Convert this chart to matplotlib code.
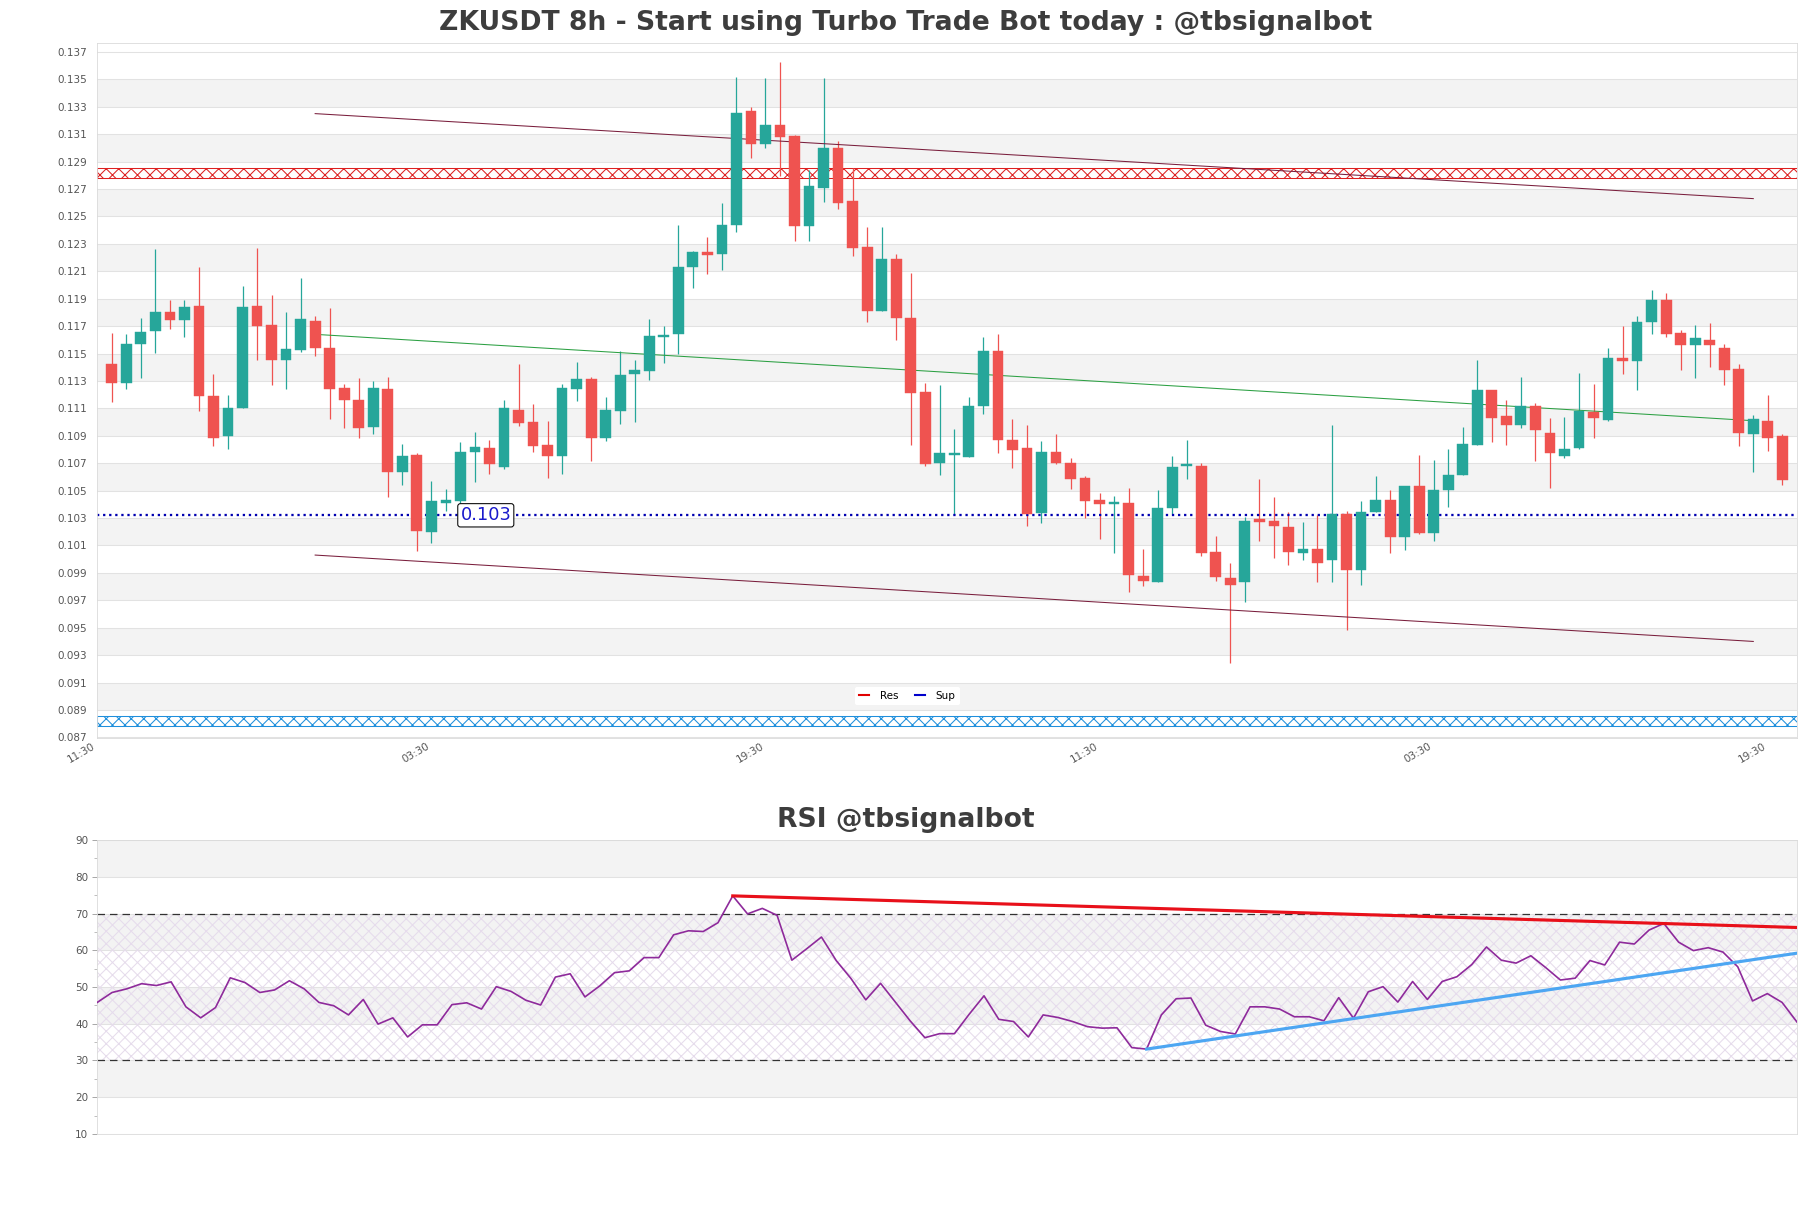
import numpy as np
import matplotlib
matplotlib.use("Agg")
import matplotlib.pyplot as plt
from matplotlib.lines import Line2D

# ---- data ----
opens = [0.11425, 0.11288, 0.11566, 0.11667, 0.11804, 0.11747, 0.11848, 0.11188, 0.10896, 0.11104,
         0.11848, 0.11710, 0.11456, 0.11526, 0.11737, 0.11540, 0.11248, 0.11160, 0.10966, 0.11241,
         0.10638, 0.10759, 0.10196, 0.10411, 0.10424, 0.10782, 0.10812, 0.10675, 0.11087, 0.11000,
         0.10832, 0.10749, 0.11238, 0.11315, 0.10883, 0.11084, 0.11348, 0.11375, 0.11623, 0.11640,
         0.12129, 0.12243, 0.12229, 0.12437, 0.13268, 0.13027, 0.13164, 0.13084, 0.12427, 0.12705,
         0.12997, 0.12615, 0.12276, 0.11807, 0.12189, 0.11760, 0.11218, 0.10698, 0.10762, 0.10745,
         0.11114, 0.11519, 0.10869, 0.10812, 0.10337, 0.10782, 0.10702, 0.10591, 0.10431, 0.10404,
         0.10411, 0.09874, 0.09831, 0.10370, 0.10678, 0.10678, 0.10052, 0.09864, 0.09831, 0.10290,
         0.10276, 0.10236, 0.10048, 0.10072, 0.09992, 0.10327, 0.09918, 0.10347, 0.10431, 0.10159,
         0.10534, 0.10193, 0.10504, 0.10612, 0.10836, 0.11234, 0.11043, 0.10976, 0.11114, 0.10920,
         0.10755, 0.10809, 0.11074, 0.11017, 0.11469, 0.11449, 0.11730, 0.11894, 0.11650, 0.11560,
         0.11596, 0.11539, 0.11389, 0.10916, 0.11007, 0.10899]
highs = [0.11650, 0.11643, 0.11757, 0.12263, 0.11891, 0.11891, 0.12132, 0.11348, 0.11198, 0.11992,
         0.12270, 0.11925, 0.11800, 0.12052, 0.11774, 0.11834, 0.11281, 0.11322, 0.11298, 0.11328,
         0.10839, 0.10776, 0.10568, 0.10511, 0.10856, 0.10930, 0.10869, 0.11164, 0.11425, 0.11130,
         0.11007, 0.11281, 0.11439, 0.11328, 0.11184, 0.11516, 0.11456, 0.11750, 0.11700, 0.12437,
         0.12246, 0.12353, 0.12598, 0.13519, 0.13298, 0.13512, 0.13626, 0.13097, 0.12839, 0.13509,
         0.13050, 0.12856, 0.12420, 0.12420, 0.12229, 0.12085, 0.11288, 0.11271, 0.10946, 0.11184,
         0.11623, 0.11643, 0.11020, 0.10980, 0.10859, 0.10913, 0.10739, 0.10605, 0.10484, 0.10460,
         0.10518, 0.10075, 0.10504, 0.10755, 0.10869, 0.10702, 0.10169, 0.09975, 0.10310, 0.10585,
         0.10454, 0.10343, 0.10270, 0.10323, 0.10980, 0.10350, 0.10424, 0.10605, 0.10504, 0.10534,
         0.10759, 0.10722, 0.10806, 0.10963, 0.11456, 0.11234, 0.11161, 0.11328, 0.11137, 0.11030,
         0.11040, 0.11355, 0.11281, 0.11539, 0.11700, 0.11777, 0.11965, 0.11945, 0.11670, 0.11710,
         0.11723, 0.11566, 0.11422, 0.11054, 0.11198, 0.10913]
lows = [0.11147, 0.11238, 0.11325, 0.11506, 0.11677, 0.11623, 0.11080, 0.10829, 0.10802, 0.11104,
        0.11456, 0.11271, 0.11244, 0.11509, 0.11482, 0.11023, 0.10960, 0.10886, 0.10910, 0.10450,
        0.10544, 0.10059, 0.10116, 0.10350, 0.10411, 0.10561, 0.10621, 0.10655, 0.10973, 0.10779,
        0.10595, 0.10621, 0.11151, 0.10719, 0.10859, 0.10987, 0.11003, 0.11308, 0.11432, 0.11499,
        0.11975, 0.12079, 0.12109, 0.12387, 0.12923, 0.12997, 0.12796, 0.12320, 0.12320, 0.12605,
        0.12554, 0.12209, 0.11727, 0.11807, 0.11596, 0.10836, 0.10678, 0.10611, 0.10327, 0.10745,
        0.11057, 0.10775, 0.10668, 0.10243, 0.10266, 0.10695, 0.10511, 0.10300, 0.10149, 0.10042,
        0.09757, 0.09807, 0.09830, 0.10327, 0.10585, 0.10022, 0.09841, 0.09245, 0.09690, 0.10136,
        0.10008, 0.09958, 0.09992, 0.09831, 0.09831, 0.09482, 0.09814, 0.10347, 0.10048, 0.10069,
        0.10183, 0.10136, 0.10384, 0.10612, 0.10836, 0.10856, 0.10836, 0.10960, 0.10719, 0.10518,
        0.10739, 0.10802, 0.10886, 0.11007, 0.11348, 0.11231, 0.11640, 0.11623, 0.11382, 0.11325,
        0.11405, 0.11271, 0.10829, 0.10638, 0.10786, 0.10538]
closes = [0.11288, 0.11566, 0.11657, 0.11804, 0.11747, 0.11841, 0.11188, 0.10886, 0.11104, 0.11841,
          0.11703, 0.11456, 0.11533, 0.11754, 0.11543, 0.11244, 0.11164, 0.10960, 0.11248, 0.10638,
          0.10752, 0.10209, 0.10424, 0.10431, 0.10782, 0.10819, 0.10695, 0.11104, 0.10990, 0.10829,
          0.10749, 0.11248, 0.11315, 0.10883, 0.11087, 0.11345, 0.11382, 0.11630, 0.11633, 0.12132,
          0.12243, 0.12220, 0.12437, 0.13258, 0.13030, 0.13164, 0.13080, 0.12430, 0.12722, 0.13000,
          0.12595, 0.12270, 0.11807, 0.12189, 0.11757, 0.11214, 0.10695, 0.10775, 0.10772, 0.11117,
          0.11519, 0.10866, 0.10799, 0.10327, 0.10782, 0.10702, 0.10588, 0.10427, 0.10404, 0.10414,
          0.09881, 0.09841, 0.10373, 0.10672, 0.10695, 0.10048, 0.09868, 0.09814, 0.10276, 0.10273,
          0.10239, 0.10055, 0.10072, 0.09975, 0.10327, 0.09918, 0.10347, 0.10431, 0.10159, 0.10534,
          0.10193, 0.10504, 0.10615, 0.10839, 0.11234, 0.11027, 0.10976, 0.11117, 0.10940, 0.10772,
          0.10802, 0.11080, 0.11027, 0.11469, 0.11449, 0.11730, 0.11891, 0.11646, 0.11560, 0.11610,
          0.11560, 0.11382, 0.10923, 0.11020, 0.10886, 0.10581]

rsi = [45.8, 48.5, 49.5, 50.9, 50.4, 51.4, 44.6, 41.6, 44.4, 52.5,
       51.2, 48.5, 49.2, 51.7, 49.5, 45.8, 44.9, 42.4, 46.6, 39.9,
       41.6, 36.4, 39.7, 39.7, 45.2, 45.7, 44.0, 50.1, 48.8, 46.4,
       45.1, 52.7, 53.6, 47.3, 50.3, 53.9, 54.4, 58.0, 58.0, 64.2,
       65.3, 65.1, 67.5, 74.8, 69.9, 71.4, 69.5, 57.3, 60.4, 63.6,
       57.2, 52.3, 46.5, 51.0, 45.9, 40.8, 36.2, 37.3, 37.3, 42.6,
       47.6, 41.2, 40.6, 36.4, 42.4, 41.7, 40.6, 39.2, 38.8, 38.9,
       33.5, 33.1, 42.4, 46.8, 47.0, 39.6, 37.9, 37.2, 44.6, 44.6,
       44.0, 41.9, 41.9, 40.8, 47.1, 41.5, 48.7, 50.1, 45.9, 51.5,
       46.6, 51.5, 52.8, 56.1, 60.9, 57.3, 56.5, 58.5, 55.3, 51.9,
       52.4, 57.2, 56.0, 62.2, 61.7, 65.5, 67.3, 62.2, 59.9, 60.7,
       59.5, 55.5, 46.2, 48.2, 45.8, 40.5]

tick_pos = [-1, 22, 45, 68, 91, 114]
tick_labels = ["11:30", "03:30", "19:30", "11:30", "03:30", "19:30"]

# channel lines (start idx, end idx, start price, end price)
chan_x = [14, 113]
chan_upper = [0.1325, 0.1263]
chan_mid = [0.1164, 0.1101]
chan_lower = [0.1003, 0.0940]

support = 0.1032
res_zone = (0.12782, 0.12856)
sup_zone = (0.08786, 0.08858)

rsi_res_x, rsi_res_y = [43, 115], [74.8, 66.2]
rsi_sup_x, rsi_sup_y = [71, 115], [33.1, 59.2]

UP, DOWN = "#26a69a", "#ef5350"
DPI = 75

fig = plt.figure(figsize=(1811 / DPI, 1208 / DPI), dpi=DPI)
ax = fig.add_axes([0.0537, 0.389, 0.9385, 0.5755])
ax2 = fig.add_axes([0.0537, 0.0613, 0.9385, 0.2433])

fig.text(0.5, 0.981, "ZKUSDT 8h - Start using Turbo Trade Bot today : @tbsignalbot",
         ha="center", va="center", fontsize=25.5, fontweight="bold", color="#3d3d3d")
fig.text(0.5, 0.321, "RSI @tbsignalbot", ha="center", va="center",
         fontsize=25.5, fontweight="bold", color="#3d3d3d")

# ---- price panel ----
x = np.arange(len(opens))
o, h, l, c = map(np.array, (opens, highs, lows, closes))
cols = np.where(c >= o, UP, DOWN)

yt = np.round(np.arange(0.087, 0.1371, 0.002), 3)
for lo in yt[1:-1:2]:
    ax.axhspan(lo, lo + 0.002, color="#f3f3f3", lw=0, zorder=0)
for v in yt:
    ax.axhline(v, color="#e2e2e2", lw=1, zorder=0.5)

ax.vlines(x, l, h, colors=cols, lw=1.2, zorder=2)
ax.bar(x, np.abs(c - o), bottom=np.minimum(o, c), width=0.74, color=cols,
       edgecolor=cols, lw=0.4, zorder=3)

ax.plot(chan_x, chan_upper, color="#7a1f3d", lw=1, zorder=2.5)
ax.plot(chan_x, chan_lower, color="#7a1f3d", lw=1, zorder=2.5)
ax.plot(chan_x, chan_mid, color="#2ca043", lw=1, zorder=2.5)

ax.axhspan(*res_zone, facecolor="none", edgecolor="#dd2020", hatch="xx", lw=1, zorder=1)
ax.axhspan(*sup_zone, facecolor="none", edgecolor="#1f8fdc", hatch="xx", lw=1, zorder=1)
ax.axhline(support, color="#0000b0", ls=":", lw=2.2, zorder=2)
ax.text(24, support, "0.103", fontsize=17, color="#1a1acc", ha="left", va="center", zorder=5,
        bbox=dict(boxstyle="round,pad=0.15", fc="white", ec="black", lw=1))

ax.set_xlim(-1, 116)
ax.set_ylim(0.08695, 0.13766)
ax.set_yticks(yt)
ax.set_yticklabels([f"{v:.3f}" for v in yt])
ax.set_xticks(tick_pos)
ax.set_xticklabels(tick_labels, rotation=30, ha="right")
ax.tick_params(axis="both", length=0, labelsize=10, labelcolor="#555555")
ax.tick_params(axis="y", pad=10)
ax.tick_params(axis="x", pad=3)
for s in ax.spines.values():
    s.set_color("#dadada")

handles = [Line2D([], [], color="#e00000", lw=2), Line2D([], [], color="#0000cc", lw=2)]
ax.legend(handles, ["Res", "Sup"], loc="lower center", bbox_to_anchor=(0.4766, 0.04), ncol=2,
          fontsize=10, handlelength=1, handletextpad=1, columnspacing=1.6,
          frameon=True, facecolor="white", edgecolor="none", framealpha=1, borderpad=0.4)

# ---- RSI panel ----
rx = np.arange(len(rsi))
for lo in [20, 40, 60, 80]:
    ax2.axhspan(lo, lo + 10, color="#f3f3f3", lw=0, zorder=0)
for v in range(10, 91, 10):
    ax2.axhline(v, color="#e2e2e2", lw=1, zorder=0.5)
ax2.axhspan(30, 70, facecolor="none", edgecolor="#e6dcec", hatch="xx", lw=0, zorder=0.6)
ax2.axhline(70, color="#333333", ls=(0, (6, 4)), lw=1.2, zorder=1)
ax2.axhline(30, color="#333333", ls=(0, (6, 4)), lw=1.2, zorder=1)

ax2.plot(rx, rsi, color="#8e2a9b", lw=1.6, zorder=3)
ax2.plot(rsi_res_x, rsi_res_y, color="#e8101a", lw=3, zorder=4)
ax2.plot(rsi_sup_x, rsi_sup_y, color="#4da6f2", lw=3, zorder=4)

ax2.set_xlim(0, len(rsi) - 1)
ax2.set_ylim(10, 90)
ax2.set_yticks(range(10, 91, 10))
ax2.set_yticks(range(15, 90, 10), minor=True)
ax2.set_xticks([])
ax2.tick_params(axis="y", which="major", length=5, color="#999999", labelsize=10,
                labelcolor="#555555")
ax2.tick_params(axis="y", which="minor", length=3, color="#999999")
for s in ax2.spines.values():
    s.set_color("#dadada")

fig.savefig("out.png", dpi=DPI)
